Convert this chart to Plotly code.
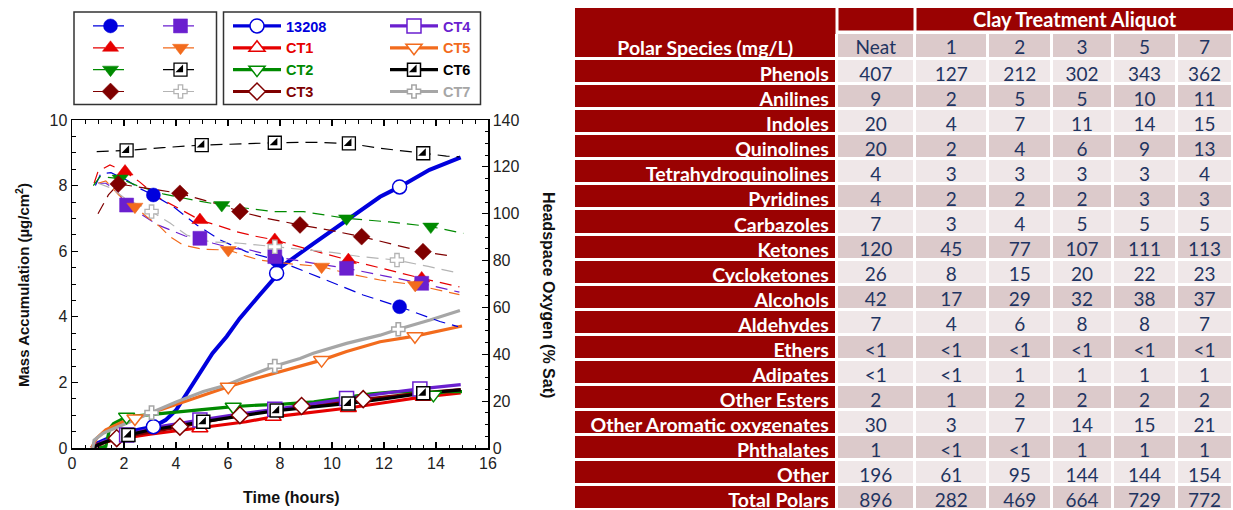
import numpy as np
import plotly.graph_objects as go

W, H = 1233, 510

# ---------------- Mass accumulation (µg/cm²), solid curves ----------------
mass_t_13208 = [0.75, 1.0, 1.5, 2.0, 2.5, 3.13, 3.6, 4.0, 4.4, 4.9, 5.4, 5.95, 6.45, 7.2, 7.75, 7.87, 8.0, 9.3, 10.55, 11.85, 12.6, 13.75, 14.95]
mass_v_13208 = [0.0, 0.15, 0.33, 0.45, 0.55, 0.65, 0.85, 1.15, 1.65, 2.28, 2.88, 3.4, 3.95, 4.65, 5.15, 5.33, 5.5, 6.24, 6.95, 7.66, 7.96, 8.48, 8.86]
mass_mt_13208 = [3.13, 7.87, 12.6]
mass_mv_13208 = [0.65, 5.33, 7.96]

mass_t_ct1 = [0.8, 1.0, 1.5, 2.0, 3.0, 4.0, 4.92, 6.0, 6.7, 7.74, 9.0, 10.63, 12.0, 13.51, 14.95]
mass_v_ct1 = [0.0, 0.12, 0.22, 0.3, 0.42, 0.52, 0.6, 0.72, 0.8, 0.95, 1.07, 1.22, 1.38, 1.56, 1.68]
mass_mt_ct1 = [4.92, 7.74, 10.63, 13.51]
mass_mv_ct1 = [0.6, 0.95, 1.22, 1.56]

mass_t_ct2 = [1.0, 1.3, 1.45, 1.6, 2.1, 2.75, 4.0, 5.3, 6.2, 7.2, 8.0, 9.3, 10.55, 11.5, 12.5, 13.9, 14.4, 15.0]
mass_v_ct2 = [0.0, 0.05, 0.6, 0.75, 0.95, 1.0, 1.1, 1.2, 1.26, 1.31, 1.33, 1.41, 1.55, 1.65, 1.72, 1.66, 1.72, 1.72]
mass_mt_ct2 = [2.1, 6.2, 13.9]
mass_mv_ct2 = [0.95, 1.26, 1.62]

mass_t_ct3 = [0.8, 1.2, 1.72, 2.5, 3.2, 4.15, 5.0, 6.46, 7.5, 8.83, 10.0, 11.2, 12.5, 13.5, 14.95]
mass_v_ct3 = [0.0, 0.15, 0.3, 0.42, 0.52, 0.65, 0.78, 1.0, 1.12, 1.28, 1.38, 1.49, 1.6, 1.68, 1.78]
mass_mt_ct3 = [1.72, 4.15, 6.46, 8.83, 11.2]
mass_mv_ct3 = [0.3, 0.65, 1.0, 1.28, 1.49]

mass_t_ct4 = [0.8, 1.2, 2.1, 3.38, 4.92, 6.3, 7.8, 9.2, 10.56, 12.0, 13.38, 14.95]
mass_v_ct4 = [0.0, 0.2, 0.4, 0.65, 0.85, 1.02, 1.18, 1.35, 1.51, 1.67, 1.8, 1.93]
mass_mt_ct4 = [2.1, 4.92, 7.8, 10.56, 13.38]
mass_mv_ct4 = [0.4, 0.85, 1.18, 1.51, 1.8]

mass_t_ct5 = [0.75, 0.95, 1.3, 2.1, 2.42, 3.38, 4.28, 5.05, 6.01, 7.2, 8.0, 8.77, 9.6, 10.56, 11.85, 13.19, 15.0]
mass_v_ct5 = [0.0, 0.3, 0.55, 0.85, 0.9, 1.16, 1.41, 1.62, 1.87, 2.15, 2.32, 2.48, 2.68, 2.94, 3.24, 3.41, 3.72]
mass_mt_ct5 = [2.42, 6.01, 9.6, 13.19]
mass_mv_ct5 = [0.9, 1.87, 2.68, 3.41]

mass_t_ct6 = [0.8, 1.0, 1.5, 2.17, 3.0, 4.0, 5.05, 6.5, 7.87, 9.2, 10.63, 12.0, 13.51, 14.95]
mass_v_ct6 = [0.0, 0.1, 0.25, 0.4, 0.55, 0.68, 0.8, 0.98, 1.14, 1.25, 1.36, 1.5, 1.67, 1.77]
mass_mt_ct6 = [2.17, 5.05, 7.87, 10.63, 13.51]
mass_mv_ct6 = [0.4, 0.8, 1.14, 1.36, 1.67]

mass_t_ct7 = [0.8, 0.85, 1.2, 2.1, 3.06, 4.03, 5.05, 5.95, 6.72, 7.8, 8.77, 9.28, 10.56, 11.85, 12.55, 13.77, 14.92]
mass_v_ct7 = [0.0, 0.24, 0.45, 0.75, 1.08, 1.41, 1.72, 1.92, 2.17, 2.5, 2.73, 2.89, 3.19, 3.44, 3.62, 3.9, 4.19]
mass_mt_ct7 = [3.06, 7.8, 12.55]
mass_mv_ct7 = [1.08, 2.5, 3.62]

# ---------------- Headspace oxygen (% saturation), dashed curves ----------------
o2_t_13208 = [0.9, 1.1, 1.5, 2.1, 2.6, 3.13, 3.9, 4.8, 5.7, 6.7, 7.87, 8.8, 9.9, 11.2, 12.6, 14.15, 14.85]
o2_v_13208 = [112, 117, 117.5, 114.4, 110.8, 108, 103, 95.2, 88.8, 83.8, 80.2, 76, 71, 65.3, 60.3, 54, 51.8]
o2_mt_13208 = [3.13, 7.87, 12.6]
o2_mv_13208 = [108, 80.2, 60.3]

o2_t_ct1 = [0.85, 1.0, 1.46, 2.04, 2.6, 3.3, 4.15, 4.92, 5.6, 6.33, 7.0, 7.8, 9.2, 10.63, 12.0, 13.45, 14.9]
o2_v_ct1 = [113, 118, 120.8, 118, 113.6, 107, 102, 97.3, 95, 92.3, 90.5, 88.8, 84.5, 80.2, 76.5, 72.4, 68.8]
o2_mt_ct1 = [2.04, 4.92, 7.8, 10.63, 13.45]
o2_mv_ct1 = [118, 97.3, 88.8, 80.2, 72.4]

o2_t_ct2 = [0.82, 1.08, 1.85, 2.5, 3.5, 4.67, 5.76, 6.7, 7.74, 8.9, 10.56, 12.2, 13.8, 15.05]
o2_v_ct2 = [112, 115.8, 115, 112, 108.5, 105.8, 103.7, 102.3, 100.9, 100.9, 98, 96.5, 94.5, 91.6]
o2_mt_ct2 = [1.85, 5.76, 10.56, 13.8]
o2_mv_ct2 = [115, 103.7, 98, 94.5]

o2_t_ct3 = [1.0, 1.4, 1.78, 2.5, 3.3, 4.15, 5.0, 5.8, 6.46, 7.5, 8.77, 10.0, 11.14, 12.3, 13.5, 14.6]
o2_v_ct3 = [100, 108, 112.7, 111.5, 110, 108.7, 106, 103.5, 100.9, 98, 95.2, 92.8, 90.2, 87, 83.8, 81.9]
o2_mt_ct3 = [1.78, 4.15, 6.46, 8.77, 11.14, 13.5]
o2_mv_ct3 = [112.7, 108.7, 100.9, 95.2, 90.2, 83.8]

o2_t_ct4 = [1.0, 1.3, 1.7, 2.1, 2.6, 3.3, 4.35, 4.92, 5.43, 6.2, 6.85, 7.8, 9.2, 10.56, 12.0, 13.45, 14.9]
o2_v_ct4 = [113, 113, 110, 103.7, 100.2, 95.2, 90.5, 89.5, 87.4, 85.2, 84.5, 81.7, 79, 76.7, 73.5, 70.3, 66.5]
o2_mt_ct4 = [2.1, 4.92, 7.8, 10.56, 13.45]
o2_mv_ct4 = [103.7, 89.5, 81.7, 76.7, 70.3]

o2_t_ct5 = [1.0, 1.3, 1.8, 2.42, 2.87, 3.38, 3.77, 4.28, 5.05, 6.01, 6.7, 7.23, 8.5, 9.6, 10.6, 11.85, 13.2, 14.9]
o2_v_ct5 = [113, 114, 108, 103, 98.7, 94.5, 90.2, 86.6, 84.8, 84.5, 81.9, 80.2, 78.5, 77.4, 74.5, 71.7, 69.6, 65.5]
o2_mt_ct5 = [2.42, 6.01, 9.6, 13.2]
o2_mv_ct5 = [103, 84.5, 77.4, 69.6]

o2_t_ct6 = [0.95, 2.1, 3.5, 4.99, 6.5, 7.8, 9.2, 10.65, 11.8, 12.5, 13.51, 14.4, 14.9]
o2_v_ct6 = [126.5, 127, 128.2, 129.3, 129.8, 130.3, 130.5, 130, 128, 127, 125.8, 124.6, 124.3]
o2_mt_ct6 = [2.1, 4.99, 7.8, 10.65, 13.51]
o2_mv_ct6 = [127, 129.3, 130.3, 130, 125.8]

o2_t_ct7 = [1.0, 1.5, 2.1, 2.74, 3.06, 3.77, 4.41, 5.3, 6.46, 7.8, 9.0, 10.0, 11.08, 12.5, 13.7, 14.9]
o2_v_ct7 = [113, 111, 106, 103, 100.9, 96, 90.9, 88, 87.4, 85.9, 84.5, 83.5, 81.7, 80.2, 77.5, 74.6]
o2_mt_ct7 = [3.06, 7.8, 12.5]
o2_mv_ct7 = [100.9, 85.9, 80.2]

# ---------------- Polar species table (mg/L) ----------------
species = ["Phenols", "Anilines", "Indoles", "Quinolines", "Tetrahydroquinolines", "Pyridines",
           "Carbazoles", "Ketones", "Cycloketones", "Alcohols", "Aldehydes", "Ethers", "Adipates",
           "Other Esters", "Other Aromatic oxygenates", "Phthalates", "Other", "Total Polars"]
aliquots = ["Neat", "1", "2", "3", "5", "7"]
col_neat = ["407", "9", "20", "20", "4", "4", "7", "120", "26", "42", "7", "<1", "<1", "2", "30", "1", "196", "896"]
col_1 = ["127", "2", "4", "2", "3", "2", "3", "45", "8", "17", "4", "<1", "<1", "1", "3", "<1", "61", "282"]
col_2 = ["212", "5", "7", "4", "3", "2", "4", "77", "15", "29", "6", "<1", "1", "2", "7", "<1", "95", "469"]
col_3 = ["302", "5", "11", "6", "3", "2", "5", "107", "20", "32", "8", "<1", "1", "2", "14", "1", "144", "664"]
col_5 = ["343", "10", "14", "9", "3", "3", "5", "111", "22", "38", "8", "<1", "1", "2", "15", "1", "144", "729"]
col_7 = ["362", "11", "15", "13", "4", "3", "5", "113", "23", "37", "7", "<1", "1", "2", "21", "1", "154", "772"]

# ---------------- styling ----------------
names = ["13208", "CT1", "CT2", "CT3", "CT4", "CT5", "CT6", "CT7"]
colors = ["#0000DD", "#E60000", "#008A00", "#7F0000", "#6A1FCF", "#F26B1D", "#000000", "#A6A6A6"]
o2_colors = ["#0000DD", "#E60000", "#008A00", "#7F0000", "#6A1FCF", "#F26B1D", "#000000", "#B4B4B4"]
symbols = ["circle", "triangle-up", "triangle-down", "diamond", "square", "triangle-down", "square", "cross"]
sizes = [13, 13, 13, 12, 13, 13, 12, 10]

mass_lines = [(mass_t_13208, mass_v_13208), (mass_t_ct1, mass_v_ct1), (mass_t_ct2, mass_v_ct2),
              (mass_t_ct3, mass_v_ct3), (mass_t_ct4, mass_v_ct4), (mass_t_ct5, mass_v_ct5),
              (mass_t_ct6, mass_v_ct6), (mass_t_ct7, mass_v_ct7)]
mass_marks = [(mass_mt_13208, mass_mv_13208), (mass_mt_ct1, mass_mv_ct1), (mass_mt_ct2, mass_mv_ct2),
              (mass_mt_ct3, mass_mv_ct3), (mass_mt_ct4, mass_mv_ct4), (mass_mt_ct5, mass_mv_ct5),
              (mass_mt_ct6, mass_mv_ct6), (mass_mt_ct7, mass_mv_ct7)]
o2_lines = [(o2_t_13208, o2_v_13208), (o2_t_ct1, o2_v_ct1), (o2_t_ct2, o2_v_ct2), (o2_t_ct3, o2_v_ct3),
            (o2_t_ct4, o2_v_ct4), (o2_t_ct5, o2_v_ct5), (o2_t_ct6, o2_v_ct6), (o2_t_ct7, o2_v_ct7)]
o2_marks = [(o2_mt_13208, o2_mv_13208), (o2_mt_ct1, o2_mv_ct1), (o2_mt_ct2, o2_mv_ct2), (o2_mt_ct3, o2_mv_ct3),
            (o2_mt_ct4, o2_mv_ct4), (o2_mt_ct5, o2_mv_ct5), (o2_mt_ct6, o2_mv_ct6), (o2_mt_ct7, o2_mv_ct7)]

DASH = "12px,7px"
DARK_RED = "#9A0202"
ROW_LIGHT = "#EFE7E8"
ROW_DARK = "#DCCACB"
NAVY = "#1F3461"
AX_FONT = dict(family="Liberation Sans", size=16, color="#222222")


def isolated(ts, vs):
    """Marker points separated by gaps so no connecting segments are drawn."""
    xs, ys = [], []
    for t, v in zip(ts, vs):
        xs += [t, None]
        ys += [v, None]
    return xs, ys


fig = go.Figure()

# dashed oxygen curves (right axis)
for i, (t, v) in enumerate(o2_lines):
    fig.add_trace(go.Scatter(x=t, y=v, yaxis="y2", mode="lines", showlegend=False, hoverinfo="skip",
                             line=dict(color=o2_colors[i], width=1.2, dash=DASH)))

# solid mass-accumulation curves (left axis)
for i, (t, v) in enumerate(mass_lines):
    fig.add_trace(go.Scatter(x=t, y=v, yaxis="y", mode="lines", showlegend=False, hoverinfo="skip",
                             line=dict(color=colors[i], width=4 if i == 0 else 3.2)))

# filled oxygen markers
for i, (t, v) in enumerate(o2_marks):
    xs, ys = isolated(t, v)
    hollow = names[i] in ("CT6", "CT7")
    fig.add_trace(go.Scatter(
        x=xs, y=ys, yaxis="y2", mode="lines+markers", connectgaps=False, hoverinfo="skip",
        name=" ", legend="legend" if i < 4 else "legend2",
        line=dict(color=o2_colors[i], width=1.2, dash=DASH),
        marker=dict(symbol=symbols[i], size=sizes[i] + 1,
                    color="white" if hollow else o2_colors[i],
                    line=dict(color="#000000" if names[i] == "CT6" else o2_colors[i], width=1.3 if hollow else 0.5))))

# hollow mass markers
for i, (t, v) in enumerate(mass_marks):
    xs, ys = isolated(t, v)
    label = "<span style='color:%s'><b>%s</b></span>" % (colors[i], names[i])
    fig.add_trace(go.Scatter(
        x=xs, y=ys, yaxis="y", mode="lines+markers", connectgaps=False, hoverinfo="skip",
        name=label, legend="legend3" if i < 4 else "legend4",
        line=dict(color=colors[i], width=3.2),
        marker=dict(symbol=symbols[i], size=sizes[i] + 1, color="white",
                    line=dict(color=colors[i], width=1.5))))

# half-filled CT6 squares: dark corner drawn on top of the white squares
fig.add_trace(go.Scatter(x=o2_mt_ct6, y=o2_mv_ct6, yaxis="y2", mode="markers", name=" ", legend="legend5",
                         hoverinfo="skip", marker=dict(symbol="triangle-se", size=8.5, color="black")))
fig.add_trace(go.Scatter(x=mass_mt_ct6, y=mass_mv_ct6, yaxis="y", mode="markers", name=" ", legend="legend6",
                         hoverinfo="skip", marker=dict(symbol="triangle-se", size=8.5, color="black")))

# ---------------- table ----------------
nb = lambda s: s.replace(" ", "\u00a0")
value_cols = [col_neat, col_1, col_2, col_3, col_5, col_7]
# "<" qualifiers are passed as per-cell prefixes; the cell value keeps the number
cell_values = [[nb(s) for s in species]] + [[v.lstrip("<") for v in col] for col in value_cols]
cell_prefix = np.array([[""] * len(species)] + [["<" if v.startswith("<") else "" for v in col] for col in value_cols],
                       dtype=str)
row_fill = [ROW_LIGHT if r % 2 == 0 else ROW_DARK for r in range(len(species))]
TX0 = 573.5
T_TOP = 32.0
HEAD_H = 26.5
LABEL_SIZE = 19.5
NUM_SIZE = 19
fig.add_trace(go.Table(
    domain=dict(x=[TX0 / W, 1.0], y=[0.0, 1 - T_TOP / H]),
    columnwidth=[263.5, 78, 73, 64, 61, 64, 56],
    header=dict(values=[nb("Polar Species (mg/L)")] + aliquots, height=HEAD_H,
                fill=dict(color=[DARK_RED] + [ROW_DARK] * 6),
                line=dict(color="white", width=3),
                align="center",
                font=dict(family="Lato", size=[LABEL_SIZE] + [NUM_SIZE] * 6, color=["white"] + [NAVY] * 6,
                          weight=["bold"] + ["normal"] * 6)),
    cells=dict(values=cell_values, prefix=cell_prefix,
               height=(H - T_TOP - HEAD_H) / len(species) - 0.01,
               fill=dict(color=[[DARK_RED] * len(species)] + [row_fill] * 6),
               line=dict(color="white", width=3),
               align=["right"] + ["center"] * 6,
               font=dict(family="Lato", size=[LABEL_SIZE] + [NUM_SIZE] * 6, color=["white"] + [NAVY] * 6,
                         weight=["bold"] + ["normal"] * 6)),
))

# ---------------- layout ----------------
def px_x(p):
    return p / W


def px_y(p):
    return 1 - p / H


LEG_FONT = 14.5
PITCH = max(LEG_FONT * 1.3, 16) + 3
legend_common = dict(bgcolor="rgba(0,0,0,0)", borderwidth=0, xanchor="left", yanchor="top",
                     tracegroupgap=0, itemclick=False, itemdoubleclick=False,
                     font=dict(family="Liberation Sans", size=LEG_FONT), itemsizing="trace")
top_y = 10.0

shapes = [
    dict(type="rect", xref="paper", yref="paper", x0=px_x(74), x1=px_x(216.5), y0=px_y(104.5), y1=px_y(12),
         line=dict(color="#333333", width=1.5)),
    dict(type="rect", xref="paper", yref="paper", x0=px_x(223.5), x1=px_x(480.5), y0=px_y(104.5), y1=px_y(12),
         line=dict(color="#333333", width=1.5)),
    # merged header cells above the table
    dict(type="rect", xref="paper", yref="paper", x0=px_x(575), x1=px_x(835.5), y0=px_y(T_TOP + 2), y1=px_y(8),
         fillcolor=DARK_RED, line=dict(width=0), layer="above"),
    dict(type="rect", xref="paper", yref="paper", x0=px_x(838.5), x1=px_x(913.5), y0=px_y(T_TOP - 1.5), y1=px_y(8),
         fillcolor=DARK_RED, line=dict(width=0)),
    dict(type="rect", xref="paper", yref="paper", x0=px_x(916.5), x1=1.0, y0=px_y(T_TOP - 1.5), y1=px_y(8),
         fillcolor=DARK_RED, line=dict(width=0)),
]

annotations = [
    dict(text="Clay Treatment Aliquot", x=px_x(1075), y=px_y(19.5), xref="paper", yref="paper",
         showarrow=False, xanchor="center", yanchor="middle",
         font=dict(family="Lato", size=20, color="white", weight="bold")),
    dict(text="Mass Accumulation (µg/cm<sup>2</sup>)", x=px_x(22), y=px_y(285), xref="paper", yref="paper",
         showarrow=False, textangle=-90, xanchor="center", yanchor="middle",
         font=dict(family="Liberation Sans", size=15, color="#111111", weight="bold")),
    dict(text="Headspace Oxygen (% Sat)", x=px_x(549), y=px_y(295), xref="paper", yref="paper",
         showarrow=False, textangle=90, xanchor="center", yanchor="middle",
         font=dict(family="Liberation Sans", size=16, color="#111111", weight="bold")),
    dict(text="Time (hours)", x=px_x(291), y=px_y(497), xref="paper", yref="paper",
         showarrow=False, xanchor="center", yanchor="middle",
         font=dict(family="Liberation Sans", size=16, color="#111111", weight="bold")),
]

fig.update_layout(
    width=W, height=H, margin=dict(l=0, r=0, t=0, b=0),
    paper_bgcolor="white", plot_bgcolor="white",
    xaxis=dict(domain=[px_x(72), px_x(488)], range=[0, 16], tick0=0, dtick=2,
               ticks="inside", ticklen=6, tickwidth=1.2, tickcolor="black",
               minor=dict(dtick=0.5, ticks="inside", ticklen=3.5, tickwidth=1, tickcolor="black"),
               showline=True, linecolor="black", linewidth=1.5, mirror="ticks",
               showgrid=False, zeroline=False, tickfont=AX_FONT, fixedrange=True, automargin=False),
    yaxis=dict(domain=[px_y(448), px_y(120)], range=[0, 10], tick0=0, dtick=2,
               ticks="inside", ticklen=6, tickwidth=1.2, tickcolor="black",
               minor=dict(dtick=0.5, ticks="inside", ticklen=3.5, tickwidth=1, tickcolor="black"),
               showline=True, linecolor="black", linewidth=1.5,
               showgrid=False, zeroline=False, tickfont=AX_FONT, fixedrange=True, automargin=False),
    yaxis2=dict(overlaying="y", side="right", anchor="x", range=[0, 140], tick0=0, dtick=20,
                ticks="inside", ticklen=6, tickwidth=1.2, tickcolor="black",
                minor=dict(dtick=5, ticks="inside", ticklen=3.5, tickwidth=1, tickcolor="black"),
                showline=True, linecolor="black", linewidth=1.5,
                showgrid=False, zeroline=False, tickfont=AX_FONT, fixedrange=True, automargin=False),
    legend=dict(x=px_x(88), y=px_y(top_y), itemwidth=35, **legend_common),
    legend2=dict(x=px_x(158), y=px_y(top_y), itemwidth=35, **legend_common),
    legend3=dict(x=px_x(228), y=px_y(top_y), itemwidth=48, **legend_common),
    legend4=dict(x=px_x(385), y=px_y(top_y), itemwidth=48, **legend_common),
    legend5=dict(x=px_x(158), y=px_y(top_y + 2 * PITCH), itemwidth=35, **legend_common),
    legend6=dict(x=px_x(385), y=px_y(top_y + 2 * PITCH), itemwidth=48, **legend_common),
    shapes=shapes, annotations=annotations,
    hovermode=False,
)

fig.write_html("out.html", config=dict(displayModeBar=False, staticPlot=True))
